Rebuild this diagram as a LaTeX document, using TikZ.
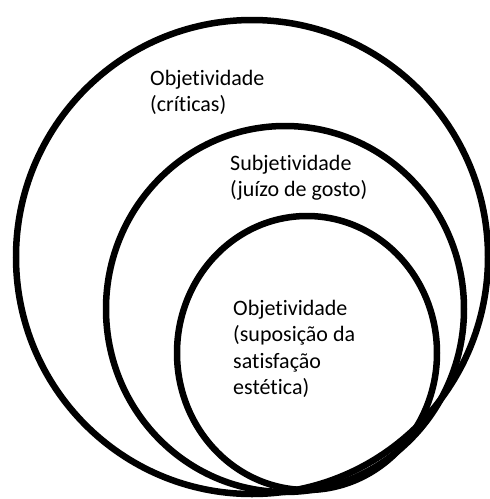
\documentclass[tikz,border=0pt]{standalone}
\usepackage{fontspec}
\setmainfont{Carlito}[Ligatures=NoCommon]
\begin{document}
\begin{tikzpicture}[x=1pt,y=-1pt,
  ring/.style={draw=black,line width=6.5pt},
  lbl/.style={anchor=base west,inner sep=0pt,align=left,font=\fontsize{22}{26.5}\selectfont}]
\useasboundingbox[fill=white] (0,0) rectangle (490,499);
\draw[ring] (252,257) ellipse [x radius=236, y radius=237];
\draw[ring] (285,309) ellipse [x radius=179, y radius=183];
\draw[ring] (307,353) ellipse [x radius=130, y radius=137];
\node[lbl] (t1) at (150,111.5) {Objetividade\\(críticas)};
\node[lbl] (t2) at (230,196.5) {Subjetividade\\(juízo de gosto)};
\node[lbl] (t3) at (233,394.5) {Objetividade\\(suposição da\\satisfação\\estética)};
\end{tikzpicture}
\end{document}
